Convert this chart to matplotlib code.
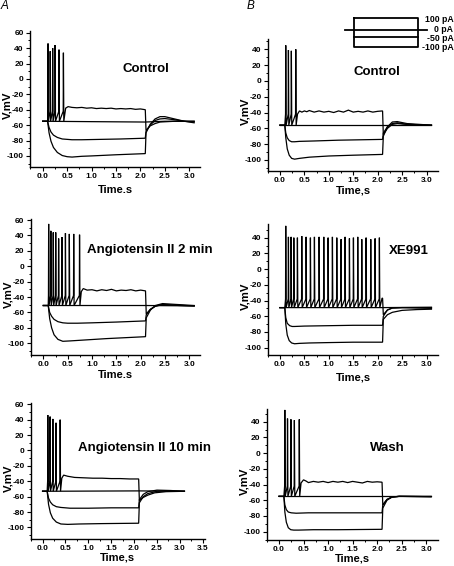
import matplotlib
matplotlib.use("Agg")
import matplotlib.pyplot as plt
from matplotlib.lines import Line2D
from matplotlib.ticker import MultipleLocator
import numpy as np

plt.rcParams['font.family'] = ['Liberation Sans', 'DejaVu Sans']

W, H = 454, 566

# ---------------- data ----------------
currents_pA = [100, 0, -50, -100]
step_on, step_off = 0.1, 2.1

# A1: Control
a1_rest, a1_thr = -55, -42
a1_spike_t = [0.105, 0.15, 0.20, 0.25, 0.33, 0.42]
a1_spike_v = [46, 36, 40, 44, 38, 34]
a1_p100_t = [0.47, 0.52, 0.6, 0.7, 0.8, 0.9, 1.0, 1.1, 1.2, 1.3, 1.4, 1.5, 1.6, 1.7, 1.8, 1.9, 2.0, 2.1, 2.115, 2.2, 2.3, 2.4, 2.55, 2.7, 2.9, 3.1]
a1_p100_v = [-38, -36, -37, -37.5, -37, -38, -37.5, -38.5, -38, -38.5, -38, -39, -38.5, -39, -38.5, -39.5, -39, -40, -67, -61, -58, -56, -55.5, -55, -55, -55]
a1_zero_t = [0, 1.0, 2.1, 2.5, 3.1]
a1_zero_v = [-55, -55.5, -56, -55, -55]
a1_m50_t = [0, 0.1, 0.13, 0.17, 0.22, 0.3, 0.4, 0.5, 0.6, 0.8, 1.2, 1.6, 2.1, 2.115, 2.2, 2.3, 2.4, 2.5, 2.7, 2.9, 3.1]
a1_m50_v = [-55, -55, -63, -69, -73, -76, -78, -78.5, -79, -79, -78.5, -78, -77, -68, -60, -54, -52, -51.5, -53, -55, -56]
a1_m100_t = [0, 0.1, 0.13, 0.17, 0.22, 0.3, 0.4, 0.5, 0.6, 0.8, 1.0, 1.5, 2.1, 2.115, 2.2, 2.3, 2.4, 2.5, 2.7, 2.9, 3.1]
a1_m100_v = [-55, -55, -70, -81, -89, -95.5, -99.5, -101, -101.5, -100.5, -100, -98.5, -97, -70, -59, -52, -49, -49, -52, -55, -57]

# A2: Angiotensin II 2 min
a2_rest, a2_thr = -51, -38
a2_spike_t = [0.105, 0.15, 0.20, 0.25, 0.31, 0.38, 0.45, 0.53, 0.62, 0.74]
a2_spike_v = [55, 46, 44, 44, 36, 38, 43, 42, 42, 41]
a2_p100_t = [0.78, 0.82, 0.9, 1.0, 1.1, 1.2, 1.3, 1.4, 1.5, 1.6, 1.7, 1.8, 1.9, 2.0, 2.1, 2.115, 2.2, 2.3, 2.4, 2.55, 2.8, 3.1]
a2_p100_v = [-33, -29, -31, -30.5, -32, -30.5, -31.5, -30, -32, -31, -31.5, -30.5, -32, -31, -32, -62, -56, -52, -50, -50, -51, -51.5]
a2_zero_t = [0, 2.1, 3.1]
a2_zero_v = [-51, -51, -51.5]
a2_m50_t = [0, 0.1, 0.13, 0.17, 0.22, 0.3, 0.4, 0.5, 0.7, 1.0, 1.5, 2.1, 2.115, 2.2, 2.3, 2.45, 2.7, 3.1]
a2_m50_v = [-51, -51, -60, -65, -69, -72, -73.5, -74, -74, -73.5, -72.5, -71, -63, -56, -52, -50, -50.5, -51.5]
a2_m100_t = [0, 0.1, 0.13, 0.17, 0.22, 0.3, 0.4, 0.55, 0.8, 1.3, 2.1, 2.115, 2.2, 2.3, 2.45, 2.7, 3.1]
a2_m100_v = [-51, -51, -68, -80, -89, -95, -97.5, -97, -96, -94, -91.5, -67, -57, -51, -48.5, -49.5, -51]

# A3: Angiotensin II 10 min
a3_rest, a3_thr = -53, -40
a3_spike_t = [0.11, 0.16, 0.22, 0.29, 0.38]
a3_spike_v = [46, 44, 41, 36, 40]
a3_p100_t = [0.42, 0.46, 0.55, 0.7, 0.9, 1.1, 1.3, 1.5, 1.7, 1.9, 2.1, 2.115, 2.2, 2.3, 2.45, 2.7, 3.1]
a3_p100_v = [-36, -32, -33.5, -35, -35.5, -36, -36, -36.5, -36.5, -37, -37, -65, -61, -58, -55, -53.5, -53]
a3_zero_t = [0, 2.1, 3.1]
a3_zero_v = [-53, -52.5, -53]
a3_m50_t = [0, 0.1, 0.13, 0.17, 0.22, 0.3, 0.4, 0.6, 1.0, 1.5, 2.1, 2.115, 2.2, 2.3, 2.5, 2.8, 3.1]
a3_m50_v = [-53, -53, -62, -67, -70.5, -73, -74, -75, -75, -74.5, -74.5, -64, -57, -53.5, -51.5, -52, -53]
a3_m100_t = [0, 0.1, 0.13, 0.17, 0.22, 0.3, 0.4, 0.55, 0.8, 1.3, 2.1, 2.115, 2.2, 2.3, 2.5, 2.8, 3.1]
a3_m100_v = [-53, -53, -70, -81, -88, -93, -95.5, -96, -95.5, -95, -94.5, -68, -60, -56, -53, -52.5, -53]

# B1: Control
b1_rest, b1_thr = -56, -42
b1_spike_t = [0.115, 0.17, 0.23, 0.32]
b1_spike_v = [45, 39, 38, 40]
b1_p100_t = [0.36, 0.40, 0.45, 0.5, 0.55, 0.6, 0.7, 0.8, 0.9, 1.0, 1.1, 1.2, 1.3, 1.4, 1.5, 1.6, 1.7, 1.8, 1.9, 2.0, 2.1, 2.115, 2.2, 2.3, 2.4, 2.6, 3.1]
b1_p100_v = [-42, -38, -39.5, -38, -39, -37.5, -39.5, -38, -39.5, -38.5, -40, -38, -39.5, -37, -39.5, -38.5, -39.5, -38, -39.5, -38.5, -38, -68, -60, -55, -54, -55, -56]
b1_zero_t = [0, 2.1, 3.1]
b1_zero_v = [-56, -56, -56]
b1_m50_t = [0, 0.1, 0.12, 0.15, 0.19, 0.24, 0.3, 0.4, 0.7, 1.2, 2.1, 2.115, 2.2, 2.3, 2.4, 2.6, 3.1]
b1_m50_v = [-56, -56, -66, -72, -75.5, -77, -77, -76.5, -76, -75, -74, -66, -58, -54, -53, -55, -56]
b1_m100_t = [0, 0.1, 0.12, 0.15, 0.19, 0.24, 0.3, 0.4, 0.6, 1.0, 1.5, 2.1, 2.115, 2.2, 2.3, 2.4, 2.6, 3.1]
b1_m100_v = [-56, -56, -72, -86, -94, -98, -99, -98, -96.5, -95, -94, -93, -70, -58, -52, -51.5, -54, -56]

# B2: XE991
b2_rest, b2_thr = -49, -38
b2_spike_t = [0.115, 0.17, 0.225, 0.28, 0.354, 0.443, 0.532, 0.62, 0.702, 0.798, 0.893, 0.982,
              1.07, 1.159, 1.247, 1.329, 1.418, 1.5, 1.588, 1.67, 1.759, 1.854, 1.943, 2.031]
b2_spike_v = [55, 41, 41, 40, 40, 42, 41, 40, 41, 41, 41, 40,
              41, 40, 38, 41, 39, 40, 41, 38, 40, 38, 39, 40]
b2_p100_t = [2.09, 2.1, 2.115, 2.2, 2.3, 2.5, 3.1]
b2_p100_v = [-37, -37, -58, -52, -49.5, -49, -49]
b2_zero_t = [0, 2.1, 3.1]
b2_zero_v = [-49, -49, -48.5]
b2_m50_t = [0, 0.1, 0.12, 0.15, 0.2, 0.25, 0.3, 0.5, 1.0, 1.5, 2.1, 2.115, 2.2, 2.3, 2.5, 3.1]
b2_m50_v = [-49, -49, -62, -69, -72, -73, -73, -72.5, -72, -71.5, -71.5, -60, -52, -49.5, -49, -50]
b2_m100_t = [0, 0.1, 0.12, 0.15, 0.19, 0.24, 0.3, 0.4, 0.6, 1.0, 1.5, 2.1, 2.115, 2.2, 2.3, 2.5, 2.8, 3.1]
b2_m100_v = [-49, -49, -70, -84, -91, -94, -95, -94.5, -94, -93.5, -93, -93, -64, -58, -55, -52.5, -51.5, -51]

# B3: Wash
b3_rest, b3_thr = -55, -42
b3_spike_t = [0.115, 0.17, 0.24, 0.31, 0.41]
b3_spike_v = [55, 44, 43, 42, 43]
b3_p100_t = [0.45, 0.5, 0.55, 0.6, 0.7, 0.8, 0.9, 1.0, 1.1, 1.2, 1.3, 1.4, 1.5, 1.6, 1.7, 1.8, 1.9, 2.0, 2.1, 2.115, 2.2, 2.3, 2.45, 3.1]
b3_p100_v = [-38, -34, -35.5, -37.5, -36, -37, -36, -37.5, -36, -37, -36, -37.5, -36, -37, -38, -36, -37, -36.5, -37, -66, -59, -56, -55, -55.5]
b3_zero_t = [0, 2.1, 3.1]
b3_zero_v = [-55, -55, -55]
b3_m50_t = [0, 0.1, 0.12, 0.15, 0.19, 0.25, 0.35, 0.6, 1.0, 2.1, 2.115, 2.2, 2.3, 2.45, 3.1]
b3_m50_v = [-55, -55, -66, -72, -75, -76, -76.5, -76, -76, -76, -66, -59, -56, -55, -55]
b3_m100_t = [0, 0.1, 0.12, 0.15, 0.19, 0.24, 0.3, 0.4, 0.7, 1.2, 2.1, 2.115, 2.2, 2.3, 2.45, 3.1]
b3_m100_v = [-55, -55, -75, -88, -95, -97.5, -98, -98, -97.5, -97.5, -97, -70, -60, -56, -55, -55.5]

titles = ["Control", "Angiotensin II 2 min", "Angiotensin II 10 min",
          "Control", "XE991", "Wash"]
xlabels = ["Time.s", "Time.s", "Time,s", "Time,s", "Time,s", "Time,s"]
ylabel = "V,mV"


# ---------------- helpers ----------------
def spiking_trace(rest, thr, spk_t, spk_v, tail_t, tail_v):
    """Vertices of the +100 pA trace: rest, spikes (base->peak->trough), then plateau/recovery."""
    t = [0.0, step_on]
    v = [rest, rest]
    for ts, pk in zip(spk_t, spk_v):
        t += [ts, ts + 0.004, ts + 0.012]
        v += [thr, pk, rest]
    return t + list(tail_t), v + list(tail_v)


def px_axes(fig, l, t, r, b):
    return fig.add_axes([l / W, 1 - b / H, (r - l) / W, (b - t) / H])


fig = plt.figure(figsize=(W / 100, H / 100), dpi=100)

panels = [
    ((30, 30.7, 200, 166.7), (-0.26, 3.22), (-114, 62.6), 3.0, 60,
     (a1_rest, a1_thr, a1_spike_t, a1_spike_v, a1_p100_t, a1_p100_v,
      a1_zero_t, a1_zero_v, a1_m50_t, a1_m50_v, a1_m100_t, a1_m100_v)),
    ((30.7, 219.3, 200, 355), (-0.26, 3.22), (-115.3, 61), 3.0, 60,
     (a2_rest, a2_thr, a2_spike_t, a2_spike_v, a2_p100_t, a2_p100_v,
      a2_zero_t, a2_zero_v, a2_m50_t, a2_m50_v, a2_m100_t, a2_m100_v)),
    ((30.7, 403.3, 205, 539), (-0.26, 3.55), (-115, 61.3), 3.5, 60,
     (a3_rest, a3_thr, a3_spike_t, a3_spike_v, a3_p100_t, a3_p100_v,
      a3_zero_t, a3_zero_v, a3_m50_t, a3_m50_v, a3_m100_t, a3_m100_v)),
    ((267.7, 39.3, 438.3, 170.7), (-0.25, 3.24), (-113.6, 52.6), 3.0, 40,
     (b1_rest, b1_thr, b1_spike_t, b1_spike_v, b1_p100_t, b1_p100_v,
      b1_zero_t, b1_zero_v, b1_m50_t, b1_m50_v, b1_m100_t, b1_m100_v)),
    ((267.7, 224.3, 438.3, 355), (-0.25, 3.24), (-109.3, 57), 3.0, 40,
     (b2_rest, b2_thr, b2_spike_t, b2_spike_v, b2_p100_t, b2_p100_v,
      b2_zero_t, b2_zero_v, b2_m50_t, b2_m50_v, b2_m100_t, b2_m100_v)),
    ((266.7, 409.3, 438, 540), (-0.25, 3.24), (-110.6, 55.8), 3.0, 40,
     (b3_rest, b3_thr, b3_spike_t, b3_spike_v, b3_p100_t, b3_p100_v,
      b3_zero_t, b3_zero_v, b3_m50_t, b3_m50_v, b3_m100_t, b3_m100_v)),
]

title_pos = [(145.7, 69), (149.8, 250), (145, 447.7),
             (376.7, 71.7), (408.7, 250.7), (387.8, 447.7)]
# distance (px) from the x axis line to the centre of the x label
xlabel_drop = [22, 19, 17.5, 18.6, 21.5, 17.5]

for i, (box, xl, yl, xmax, ymax, d) in enumerate(panels):
    ax = px_axes(fig, *box)
    (rest, thr, st, sv, pt, pv, zt, zv, m50t, m50v, m100t, m100v) = d
    tt, vv = spiking_trace(rest, thr, st, sv, pt, pv)
    for x, y in [(tt, vv), (zt, zv), (m50t, m50v), (m100t, m100v)]:
        ax.plot(x, y, color='black', lw=0.9, solid_joinstyle='miter')
    ax.set_xlim(*xl)
    ax.set_ylim(*yl)
    ax.set_xticks(np.arange(0, xmax + 0.01, 0.5))
    ax.set_yticks(np.arange(-100, ymax + 1, 20))
    ax.xaxis.set_minor_locator(MultipleLocator(0.25))
    ax.yaxis.set_minor_locator(MultipleLocator(10))
    ax.xaxis.set_major_formatter(plt.FuncFormatter(lambda x, p: f"{x:.1f}"))
    ax.yaxis.set_major_formatter(plt.FuncFormatter(lambda y, p: f"{int(round(y))}"))
    for s in ['top', 'right']:
        ax.spines[s].set_visible(False)
    for s in ['left', 'bottom']:
        ax.spines[s].set_linewidth(1.0)
    ax.tick_params(which='major', direction='out', length=3, width=0.8, pad=1.5,
                   labelsize=6)
    ax.tick_params(which='minor', direction='out', length=1.6, width=0.7)
    for lab in ax.get_xticklabels() + ax.get_yticklabels():
        lab.set_fontweight('bold')
    ax.patch.set_alpha(0)
    l, t, r, b = box
    ax.set_ylabel(ylabel, fontsize=8.2, fontweight='bold')
    ax.yaxis.label.set_verticalalignment('baseline')
    ax.yaxis.set_label_coords(-19.5 / (r - l), 0.45)
    ax.set_xlabel(xlabels[i], fontsize=8, fontweight='bold')
    ax.xaxis.label.set_verticalalignment('center_baseline')
    ax.xaxis.set_label_coords(0.5, -xlabel_drop[i] / (b - t))
    tx, ty = title_pos[i]
    fig.text(tx / W, 1 - ty / H, titles[i], fontsize=9.5, fontweight='bold',
             ha='center', va='center')

# panel letters
fig.text(4.5 / W, 1 - 6 / H, "A", fontsize=8.5, style='italic', ha='center', va='center')
fig.text(251 / W, 1 - 6 / H, "B", fontsize=8.5, style='italic', ha='center', va='center')

# current-step schematic (B, top right)
def fline(xs, ys, lw=1.3):
    fig.add_artist(Line2D([x / W for x in xs], [1 - y / H for y in ys],
                          color='black', lw=lw, transform=fig.transFigure))

box_l, box_r, box_t, box_b = 354.3, 417.5, 18.3, 47
fline([box_l, box_r, box_r, box_l, box_l], [box_t, box_t, box_b, box_b, box_t])
fline([345, 427], [29.8, 29.8])
fline([box_l, box_r], [37.3, 37.3])
label_y = [20, 29.5, 38.5, 47.5]
for c, y in zip(currents_pA, label_y):
    fig.text(453.5 / W, 1 - y / H, f"{c} pA", fontsize=6.3, fontweight='bold',
             ha='right', va='center')

fig.savefig("out.png", dpi=100)
